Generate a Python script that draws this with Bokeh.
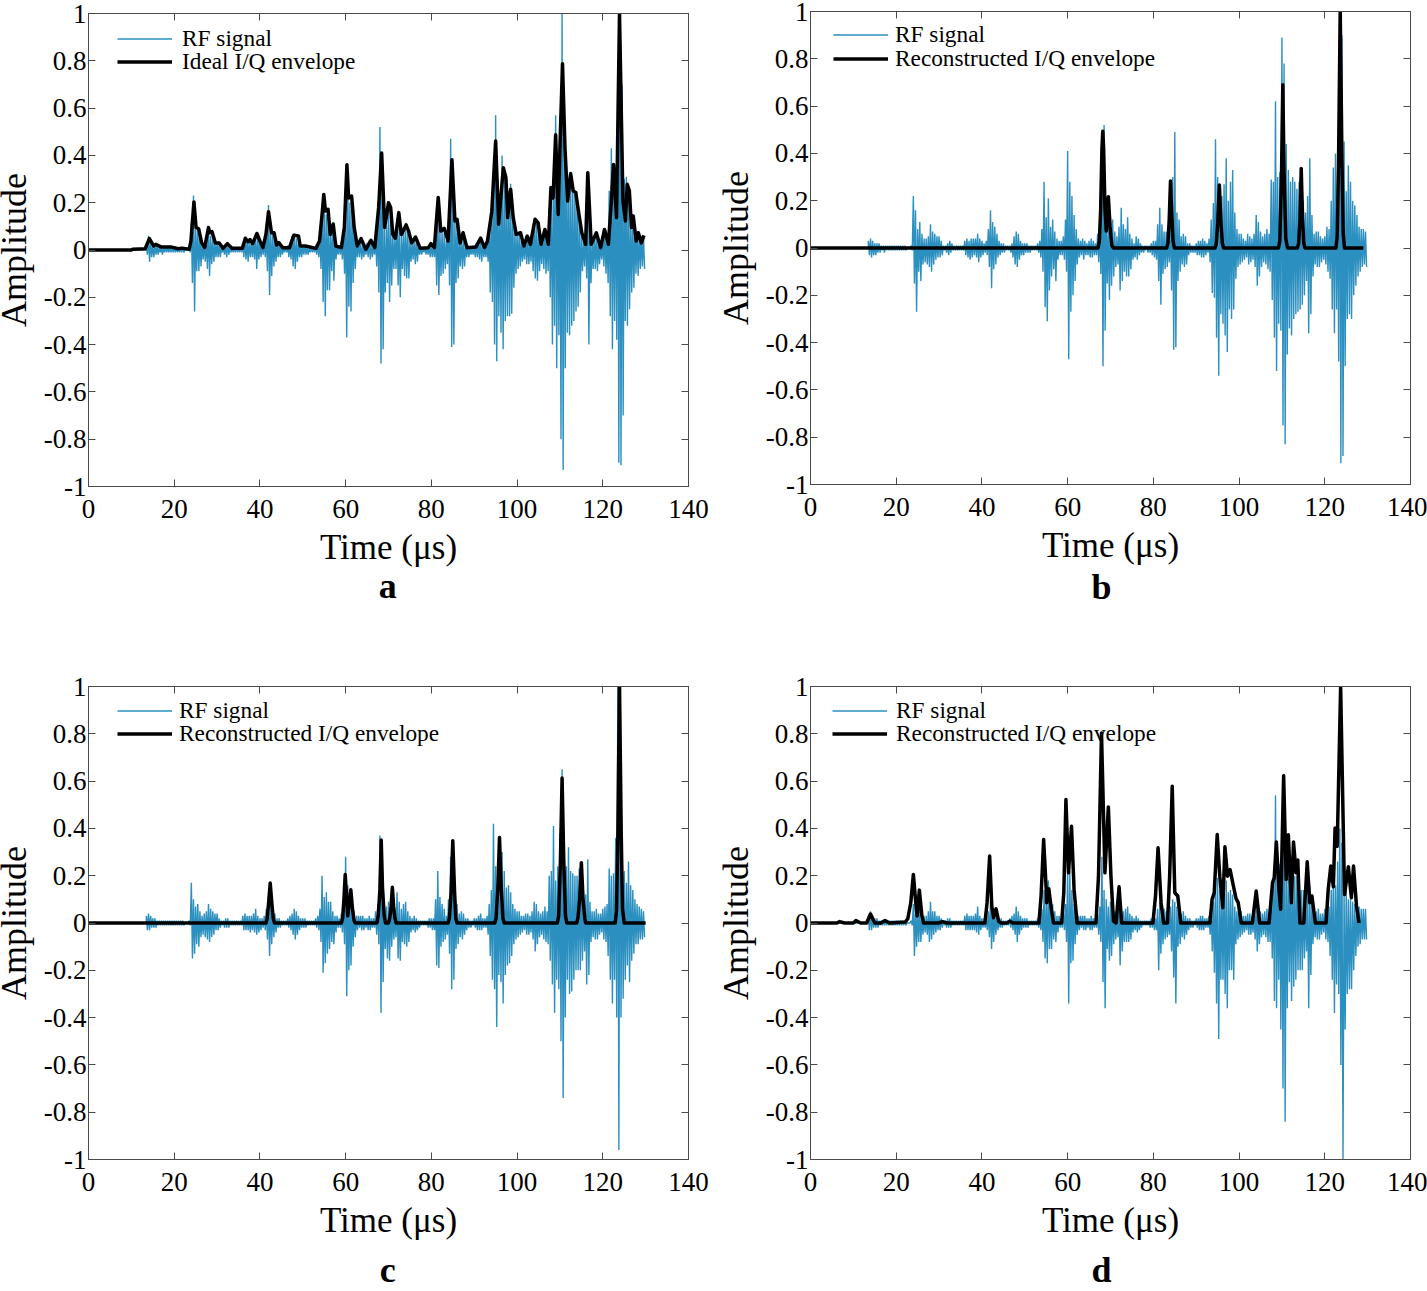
import numpy as np
from bokeh.embed import file_html
from bokeh.resources import INLINE
from bokeh.layouts import column, row
from bokeh.plotting import figure
from bokeh.models import (Range1d, FixedTicker, LinearAxis, Legend, LegendItem, Label,
                          CustomJSTickFormatter)

x_ticks = [0, 20, 40, 60, 80, 100, 120, 140]
y_ticks = [-1, -0.8, -0.6, -0.4, -0.2, 0, 0.2, 0.4, 0.6, 0.8, 1]
y_tick_labels = ["-1", "-0.8", "-0.6", "-0.4", "-0.2", "0", "0.2", "0.4", "0.6", "0.8", "1"]

# RF signal extremes in hundredths, one high/low pair per 0.5 us from 13.5 us to 129.5 us
rf_start = 13.5
rf_step = 0.5

rf_hi_a = [2,6,4,2,2,2,1,1,1,1,1,1,1,1,1,1,1,1,0,0,1,
 12,23,10,9,6,3,3,5,10,6,5,3,3,3,1,1,2,3,1,1,
 1,1,1,1,3,5,4,4,3,4,7,5,3,2,3,8,19,9,7,4,
 3,3,2,1,1,2,3,6,7,5,3,2,2,2,1,1,1,1,2,3,
 6,16,24,15,16,7,11,4,2,2,3,8,17,30,20,20,9,3,3,4,
 2,2,3,4,3,2,5,15,52,40,10,10,19,12,7,5,13,10,6,8,
 10,8,4,3,5,4,2,1,1,1,1,2,2,2,10,21,8,8,7,4,
 12,47,30,12,11,4,6,5,2,2,1,1,2,3,4,5,3,2,3,10,
 18,30,57,30,20,40,30,25,25,28,15,8,7,7,4,3,6,5,4,8,
 13,12,8,5,6,9,7,18,27,30,57,35,45,100,60,42,30,33,27,25,
 22,12,7,4,10,30,8,4,6,7,4,3,5,9,7,25,43,35,35,80,
 95,70,30,31,22,14,15,9,8,7,6,6]
rf_lo_a = [-2,-5,-3,-3,-2,-2,-1,-2,-1,-1,-1,-1,-1,-1,-1,-1,-1,-1,0,0,-1,
 -14,-26,-9,-9,-7,-4,-5,-8,-11,-6,-5,-3,-3,-3,-1,-2,-3,-2,-1,-1,
 -1,-1,-1,-1,-3,-4,-5,-3,-3,-4,-8,-4,-3,-2,-3,-9,-19,-11,-7,-5,
 -3,-3,-2,-1,-1,-3,-4,-7,-8,-5,-3,-3,-2,-2,-2,-1,-1,-1,-2,-3,
 -8,-22,-28,-17,-17,-9,-13,-4,-2,-2,-4,-10,-37,-24,-26,-14,-8,-3,-3,-4,
 -3,-2,-3,-4,-3,-2,-7,-18,-48,-42,-18,-14,-22,-15,-8,-8,-15,-20,-8,-11,
 -12,-12,-5,-4,-6,-5,-2,-2,-1,-2,-2,-3,-3,-3,-15,-19,-11,-10,-8,-6,
 -15,-41,-40,-14,-12,-7,-8,-7,-3,-3,-2,-2,-3,-3,-4,-5,-3,-3,-5,-18,
 -22,-40,-47,-28,-35,-42,-30,-28,-28,-27,-16,-10,-8,-7,-5,-4,-6,-6,-5,-9,
 -12,-13,-9,-6,-8,-10,-9,-20,-40,-32,-50,-36,-80,-93,-50,-35,-36,-32,-30,-26,
 -24,-18,-9,-7,-12,-40,-14,-8,-8,-9,-6,-4,-7,-10,-14,-28,-42,-30,-38,-90,
 -91,-70,-30,-32,-25,-18,-16,-10,-11,-8,-7,-8]

rf_hi_b = [3,4,3,2,2,2,1,1,1,1,1,1,1,1,1,1,1,1,0,0,1,
 22,16,8,11,6,4,4,5,10,7,6,5,5,3,1,1,2,3,2,1,
 1,1,1,1,3,4,3,4,4,4,6,4,3,2,3,8,16,11,9,6,
 3,2,2,1,1,1,2,5,7,6,3,2,2,2,1,1,1,1,2,3,
 8,28,13,21,9,12,7,4,3,3,5,12,41,28,22,14,8,4,3,4,
 3,2,3,4,3,2,6,9,30,52,14,10,13,12,7,5,9,17,10,8,
 13,6,4,2,5,4,2,1,1,1,1,2,3,3,10,17,10,7,7,4,
 13,30,49,15,12,5,6,5,2,2,1,1,2,3,3,4,3,2,4,12,
 19,46,30,24,22,27,38,20,28,33,15,8,6,6,4,3,6,5,4,6,
 14,11,7,5,6,8,6,29,28,62,30,32,89,78,44,33,28,30,28,25,
 28,30,20,15,22,38,14,6,7,7,5,4,5,9,8,20,34,40,30,100,
 90,45,24,35,28,20,18,14,9,8,8,7]
rf_lo_b = [-3,-4,-3,-3,-2,-2,-1,-2,-1,-1,-1,-1,-1,-1,-1,-1,-1,-1,0,0,-1,
 -15,-27,-10,-14,-7,-6,-7,-8,-10,-7,-5,-4,-4,-3,-1,-2,-3,-2,-1,-1,
 -1,-1,-1,-1,-3,-4,-5,-4,-3,-4,-6,-4,-3,-2,-3,-8,-17,-9,-7,-4,
 -3,-2,-2,-1,-1,-2,-4,-7,-8,-5,-3,-3,-2,-2,-2,-1,-1,-1,-2,-4,
 -10,-25,-31,-18,-12,-9,-14,-5,-3,-3,-5,-10,-47,-27,-20,-14,-7,-4,-3,-5,
 -3,-3,-4,-4,-3,-3,-6,-11,-50,-35,-15,-22,-16,-12,-8,-7,-18,-14,-10,-12,
 -12,-9,-5,-4,-5,-3,-2,-2,-1,-2,-2,-3,-4,-5,-14,-24,-11,-9,-8,-6,
 -18,-43,-42,-14,-10,-7,-8,-7,-3,-2,-2,-2,-3,-3,-4,-4,-3,-2,-6,-19,
 -21,-38,-54,-28,-32,-37,-44,-26,-30,-26,-13,-8,-7,-6,-5,-4,-7,-6,-5,-8,
 -16,-12,-8,-6,-7,-9,-10,-22,-38,-52,-32,-35,-75,-83,-45,-34,-37,-30,-28,-27,
 -26,-24,-20,-14,-36,-28,-12,-7,-8,-8,-6,-5,-7,-10,-13,-26,-36,-26,-48,-91,
 -88,-50,-30,-28,-30,-20,-16,-12,-10,-8,-7,-8]

rf_hi_c = [3,4,3,2,2,1,1,1,1,1,1,1,1,1,1,1,1,1,0,0,1,
 17,10,7,8,5,3,4,5,8,6,5,4,4,2,1,1,2,2,1,1,
 1,1,1,1,3,4,3,3,3,4,6,3,2,2,3,6,12,8,6,4,
 2,2,1,1,1,2,3,4,6,5,3,2,2,2,1,1,1,1,2,3,
 6,20,11,13,9,9,5,3,3,2,4,9,28,16,12,8,5,3,3,3,
 3,2,2,3,2,2,5,8,37,25,10,7,9,8,5,4,13,9,6,8,
 9,5,3,2,3,2,1,1,1,1,1,2,2,2,10,22,11,8,6,3,
 10,28,34,10,8,4,5,4,2,2,1,1,2,2,3,4,2,2,3,8,
 14,42,24,19,17,30,22,15,16,13,8,6,5,5,3,3,4,4,3,5,
 9,8,5,4,5,7,5,20,22,41,18,24,38,65,30,24,32,22,21,20,
 20,23,17,10,12,27,9,5,5,6,4,4,6,7,8,23,20,21,36,100,
 100,38,22,17,26,16,14,10,8,7,6,5]
rf_lo_c = [-3,-3,-2,-2,-2,-1,-1,-1,-1,-1,-1,-1,-1,-1,-1,-1,-1,-1,0,0,-1,
 -15,-13,-9,-10,-6,-5,-6,-7,-8,-6,-5,-3,-3,-2,-1,-2,-2,-2,-1,-1,
 -1,-1,-1,-1,-3,-3,-3,-4,-3,-4,-5,-4,-3,-2,-3,-7,-14,-9,-6,-4,
 -2,-2,-1,-1,-1,-2,-3,-5,-7,-5,-3,-2,-2,-2,-1,-1,-1,-1,-2,-3,
 -8,-21,-17,-13,-11,-8,-9,-4,-2,-2,-4,-9,-31,-20,-18,-10,-6,-3,-2,-3,
 -3,-2,-3,-3,-2,-2,-5,-9,-38,-25,-11,-15,-16,-10,-7,-6,-15,-16,-8,-9,
 -10,-8,-4,-3,-4,-3,-2,-1,-1,-1,-2,-2,-3,-3,-18,-19,-10,-8,-7,-5,
 -13,-28,-24,-11,-9,-6,-7,-5,-3,-2,-2,-1,-2,-3,-3,-3,-2,-2,-5,-14,
 -24,-28,-44,-22,-25,-34,-22,-18,-17,-14,-9,-7,-6,-5,-4,-3,-5,-5,-4,-7,
 -12,-9,-6,-5,-7,-8,-9,-16,-26,-38,-24,-28,-50,-74,-40,-24,-30,-29,-24,-20,
 -20,-20,-16,-12,-26,-22,-8,-6,-7,-7,-5,-4,-7,-8,-14,-24,-34,-24,-40,-96,
 -40,-32,-24,-18,-25,-16,-13,-9,-9,-7,-7,-6]

rf_hi_d = [3,5,3,2,2,1,1,1,1,1,1,1,1,1,1,1,1,1,0,0,1,
 8,7,5,6,4,3,3,5,9,5,5,3,3,2,1,1,2,2,1,1,
 1,1,1,1,3,4,3,3,3,4,7,3,2,2,2,5,9,6,5,3,
 2,2,1,1,1,2,3,4,7,5,3,2,2,2,1,1,1,1,2,3,
 6,14,10,18,8,8,5,3,3,2,4,8,22,22,14,8,5,3,3,3,
 3,2,2,3,2,2,4,7,28,14,10,7,9,8,5,4,8,8,5,6,
 7,4,3,2,3,2,1,1,1,1,1,2,2,2,6,9,7,6,5,3,
 7,10,9,7,7,4,5,3,2,2,1,1,2,2,3,3,2,2,3,6,
 9,19,19,14,14,18,18,13,14,12,7,5,5,5,3,3,4,4,3,5,
 8,7,5,4,5,6,5,12,19,54,20,25,36,63,30,24,22,23,20,20,
 18,14,14,9,14,16,9,5,5,6,4,4,6,7,7,14,20,16,26,40,
 34,14,14,10,10,9,8,8,7,6,6,6]
rf_lo_d = [-3,-3,-2,-2,-2,-1,-1,-1,-1,-1,-1,-1,-1,-1,-1,-1,-1,-1,0,0,-1,
 -14,-10,-8,-8,-5,-4,-5,-8,-7,-5,-4,-3,-3,-2,-1,-2,-2,-2,-1,-1,
 -1,-1,-1,-1,-3,-3,-3,-3,-3,-4,-5,-3,-2,-2,-3,-6,-11,-8,-5,-3,
 -2,-2,-1,-1,-1,-2,-3,-5,-8,-5,-3,-2,-2,-2,-1,-1,-1,-1,-2,-3,
 -8,-15,-17,-11,-11,-7,-8,-4,-2,-2,-3,-8,-34,-17,-16,-9,-5,-3,-2,-3,
 -3,-2,-3,-3,-2,-2,-5,-8,-25,-36,-11,-16,-14,-9,-7,-6,-18,-12,-8,-8,
 -8,-7,-4,-3,-4,-3,-2,-1,-1,-1,-2,-2,-3,-3,-20,-13,-9,-7,-6,-5,
 -12,-23,-34,-10,-9,-6,-7,-5,-3,-2,-2,-1,-2,-3,-3,-3,-2,-2,-5,-12,
 -21,-34,-49,-24,-24,-30,-36,-20,-20,-24,-9,-7,-6,-5,-4,-3,-5,-5,-4,-7,
 -12,-9,-6,-5,-6,-8,-8,-15,-33,-36,-24,-45,-70,-84,-36,-25,-33,-27,-24,-20,
 -20,-20,-15,-12,-36,-22,-9,-6,-7,-7,-5,-4,-7,-8,-14,-24,-38,-26,-30,-60,
 -100,-45,-30,-28,-28,-20,-14,-10,-9,-7,-7,-7]

# Envelopes
env_t_a = [0,10,10.3,13.2,14.2,15.2,15.7,16.9,19.2,20.9,21.8,23.5,23.9,24.6,25.1,25.7,26.4,27.1,28,28.3,28.8,29.6,30.5,31.4,32.4,33.5,35.9,36.6,37.2,37.7,38.3,39.3,40,40.7,41.4,42,42.7,43.3,43.9,44.4,45.3,46.9,47.9,49,49.4,50.6,53.1,53.9,54.5,54.9,55.3,55.9,56.4,57.1,57.7,59,59.7,60.3,60.7,61.4,62,62.7,63.6,64.7,65.9,66.8,67.7,68.4,69.1,70,70.5,71,71.6,72.4,73,74.1,74.7,75.4,76.3,77.4,79.3,79.9,80.7,81.6,82.2,83,83.9,84.8,85.5,86,86.7,87.4,88.3,90.4,91.5,92.4,93.1,94.1,95,95.7,96.4,96.8,97.4,97.8,98.5,99.1,99.8,100.8,101.6,102.4,103.1,104.2,104.9,105.6,106.5,107.3,107.9,108.4,109,109.6,110,110.6,111.2,111.8,112.5,113.1,113.7,114.2,115.1,116,116.5,117.3,118.5,119.5,120.4,121.3,122,122.5,123.2,123.9,124.7,125.3,125.7,126.2,126.7,127.1,127.8,128.3,129,129.6]
env_v_a = [0,0,.003,.005,.048,.017,.024,.013,.013,.005,.008,.003,.038,.203,.095,.09,.03,.01,.095,.073,.078,.03,.03,.007,.027,.007,.007,.05,.035,.044,.027,.07,.038,.01,.066,.162,.073,.073,.021,.031,.01,.01,.062,.059,.017,.017,.007,.038,.15,.235,.165,.172,.066,.11,.017,.01,.095,.36,.22,.228,.095,.017,.048,.003,.041,.01,.18,.41,.095,.2,.18,.066,.05,.158,.066,.106,.08,.03,.055,.007,.01,.027,.01,.222,.08,.092,.038,.382,.123,.13,.03,.073,.01,.013,.05,.01,.038,.162,.461,.109,.264,.348,.306,.137,.257,.137,.066,.073,.017,.059,.024,.13,.116,.024,.087,.024,.264,.22,.487,.15,.433,.788,.419,.207,.323,.25,.243,.179,.073,.024,.327,.024,.073,.01,.087,.024,.207,.362,.137,1.0,.207,.123,.278,.25,.095,.144,.038,.073,.03,.062]

env_t_b = [0,67.1,67.4,67.7,68,68.2,68.4,68.7,69,69.5,69.9,70.3,70.7,83.1,83.4,83.7,84,84.3,84.6,84.9,94.4,94.7,95,95.4,95.8,96.1,96.4,109.2,109.5,109.9,110.2,110.5,110.9,111.3,113.6,113.9,114.2,114.5,114.8,115.1,115.4,122.6,122.9,123.2,123.6,124,124.3,124.6,129]
env_v_b = [0,0,.03,.16,.42,.494,.42,.17,.072,.217,.09,.01,0,0,.02,.12,.283,.14,.03,0,0,.02,.1,.266,.1,.02,0,0,.03,.3,.69,.32,.04,0,0,.02,.12,.336,.13,.02,0,0,.05,.35,1.01,.38,.06,0,0]

env_t_c = [0,41.4,41.7,42.1,42.4,42.7,43.1,43.4,59,59.3,59.6,59.9,60.5,61.2,61.6,61.9,62.2,67.3,67.6,68,68.3,68.6,69,69.3,70,70.3,70.6,70.9,71.2,71.5,71.8,83.9,84.2,84.6,85,85.4,85.7,86,94.8,95.1,95.5,95.9,96.3,96.7,97,109.4,109.7,110.1,110.5,110.9,111.3,111.6,113.9,114.2,114.6,115,115.4,115.8,116,122.9,123.2,123.5,123.9,124.3,124.6,125,130]
env_v_c = [0,0,.02,.1,.169,.1,.02,0,0,.02,.1,.205,.03,.141,.06,.015,0,0,.03,.14,.351,.15,.03,0,0,.02,.07,.151,.07,.02,0,0,.02,.13,.348,.14,.02,0,0,.02,.14,.362,.15,.02,0,0,.03,.25,.613,.26,.03,0,0,.02,.1,.255,.1,.02,0,0,.05,.35,1.01,.38,.06,0,0]

env_t_d = [0,6.2,6.8,7.9,10,10.6,11.7,13.1,14,15,16.4,17.4,18.4,22.1,22.7,23.4,24,24.7,24.9,25.4,26,26.4,29.9,30.8,31.8,40.7,41.2,41.8,42.3,42.7,43.3,43.9,44.4,45.8,46.5,47.2,53.3,53.8,54.4,55,55.1,55.6,56.2,56.7,58.6,59.1,59.6,60.2,60.9,61.5,62.2,66.6,67.2,67.9,68.7,69.5,70.1,70.7,71.3,72,72.6,79.9,80.5,81.1,81.8,82.4,83.3,83.8,84.4,85,85.7,86.4,93.2,93.7,94.2,94.9,95.5,96.2,96.7,97.3,97.9,98.6,99.3,99.8,100.5,103.1,104,104.8,107,107.8,108.2,108.7,109.3,109.7,110.4,111,111.5,112.2,112.7,113.3,113.7,114.2,115.1,115.9,116.5,117,117.8,120.3,120.8,121.4,122,122.4,122.9,123.7,124.6,125.5,126.2,126.7,127.4,128]
env_v_d = [0,0,.006,0,0,.01,0,0,.038,0,0,.011,0,.004,.018,.086,.205,.058,.03,.139,.03,0,0,.006,0,0,.086,.283,.072,.022,.06,.008,0,0,.008,0,0,.114,.353,.142,.086,.145,.058,0,0,.128,.522,.212,.409,.142,0,0,.198,.803,.212,.491,.198,.008,0,.153,0,0,.114,.318,.086,0,0,.198,.578,.128,.114,0,0,.1,.128,.374,.198,.065,.322,.198,.226,.163,.103,.086,0,0,.135,0,0,.17,.191,.343,.142,.058,.623,.184,.373,.086,.343,.212,.266,0,0,.259,.086,.114,0,0,.142,.241,.153,.402,.325,1.0,.121,.238,.107,.241,.072,0]

RF_COLOR = "#2b8fc0"
SERIF = "Liberation Serif"
AXIS_COLOR = "#4a4a4a"


def zigzag(hi, lo):
    assert len(hi) == len(lo) == 233, (len(hi), len(lo))
    xs, ys = [0.0, rf_start], [0.0, 0.0]
    for i, (h, l) in enumerate(zip(hi, lo)):
        t = rf_start + rf_step * i
        xs += [t, t + rf_step / 2]
        ys += [h / 100, l / 100]
    return xs, ys


def panel(hi, lo, env_t, env_v, env_name, letter, letter_x, letter_y, top, width, right,
          height, bottom, legend_x, legend_y1, legend_y2, standoff, margin_top):
    assert len(env_t) == len(env_v), (letter, len(env_t), len(env_v))
    p = figure(width=width, height=height, output_backend="svg", toolbar_location=None,
               x_range=Range1d(0, 140), y_range=Range1d(-1, 1),
               min_border_left=88, min_border_right=right, min_border_top=top,
               min_border_bottom=bottom, background_fill_color="white",
               border_fill_color="white", margin=(margin_top, 0, 0, 0))
    p.grid.visible = False
    p.outline_line_color = AXIS_COLOR
    rx, ry = zigzag(hi, lo)
    r1 = p.line(rx, ry, line_color=RF_COLOR, line_width=1.4)
    r2 = p.line(env_t, env_v, line_color="black", line_width=3.5, line_join="round")

    for ax in (p.xaxis[0], p.yaxis[0]):
        ax.major_tick_in = 7
        ax.major_tick_out = 0
        ax.minor_tick_line_color = None
        ax.axis_line_color = AXIS_COLOR
        ax.major_tick_line_color = AXIS_COLOR
        ax.major_label_text_font = SERIF
        ax.major_label_text_font_size = "27px"
        ax.major_label_text_color = "black"
        ax.axis_label_text_font = SERIF
        ax.axis_label_text_font_style = "normal"
        ax.axis_label_text_color = "black"
    p.xaxis[0].ticker = FixedTicker(ticks=x_ticks)
    p.yaxis[0].ticker = FixedTicker(ticks=y_ticks)
    p.yaxis[0].major_label_overrides = dict(zip(y_ticks, y_tick_labels))
    p.xaxis[0].axis_label = "Time (\u03bcs)"
    p.xaxis[0].axis_label_text_font_size = "35px"
    p.xaxis[0].axis_label_standoff = 7
    p.xaxis[0].major_label_standoff = 13
    p.yaxis[0].major_label_standoff = 2

    blank = CustomJSTickFormatter(code="return ''")
    top_ax = LinearAxis(ticker=FixedTicker(ticks=x_ticks), formatter=blank)
    right_ax = LinearAxis(ticker=FixedTicker(ticks=y_ticks), formatter=blank)
    for ax in (top_ax, right_ax):
        ax.major_tick_in = 7
        ax.major_tick_out = 0
        ax.minor_tick_line_color = None
        ax.axis_line_color = AXIS_COLOR
        ax.major_tick_line_color = AXIS_COLOR
        ax.major_label_text_font_size = "1px"
        ax.major_label_standoff = 0
    p.add_layout(top_ax, "above")
    p.add_layout(right_ax, "right")

    for label, rend, ly in (("RF signal", r1, legend_y1), (env_name, r2, legend_y2)):
        legend = Legend(items=[LegendItem(label=label, renderers=[rend])],
                        location=(legend_x, ly), background_fill_alpha=0,
                        border_line_color=None, padding=0, margin=0, spacing=0,
                        glyph_width=55, glyph_height=23, label_height=23,
                        label_standoff=standoff, label_text_font=SERIF,
                        label_text_font_size="23.3px", label_text_color="black")
        p.add_layout(legend, "center")

    p.add_layout(Label(x=13, x_units="canvas", y=0, text="Amplitude", angle=90, angle_units="deg",
                       text_font=SERIF, text_font_size="36px", text_align="center",
                       text_baseline="middle", text_color="black"), "left")
    p.add_layout(Label(x=letter_x, y=letter_y, y_units="canvas", text=letter, text_font=SERIF,
                       text_font_size="36px", text_font_style="bold", text_align="center",
                       text_baseline="middle", text_color="black"), "below")
    return p


pa = panel(rf_hi_a, rf_lo_a, env_t_a, env_v_a, "Ideal I/Q envelope", "a", 69.8, 583,
           11, 722, 34, 662, 178, 29, 434, 411, 10, 2)
pb = panel(rf_hi_b, rf_lo_b, env_t_b, env_v_b, "Reconstructed I/Q envelope", "b", 67.9, 586,
           11, 705, 17, 662, 178, 23, 436, 412, 7, 0)
pc = panel(rf_hi_c, rf_lo_c, env_t_c, env_v_c, "Reconstructed I/Q envelope", "c", 69.8, 605,
           22, 722, 34, 625, 130, 29, 435.5, 412.5, 7, 0)
pd = panel(rf_hi_d, rf_lo_d, env_t_d, env_v_d, "Reconstructed I/Q envelope", "d", 67.9, 605,
           22, 705, 17, 625, 130, 22, 435.5, 412.5, 9, 0)

page = column(row(pa, pb, spacing=0), row(pc, pd, spacing=0), spacing=0)
open("out.html", "w").write(file_html(page, INLINE))
